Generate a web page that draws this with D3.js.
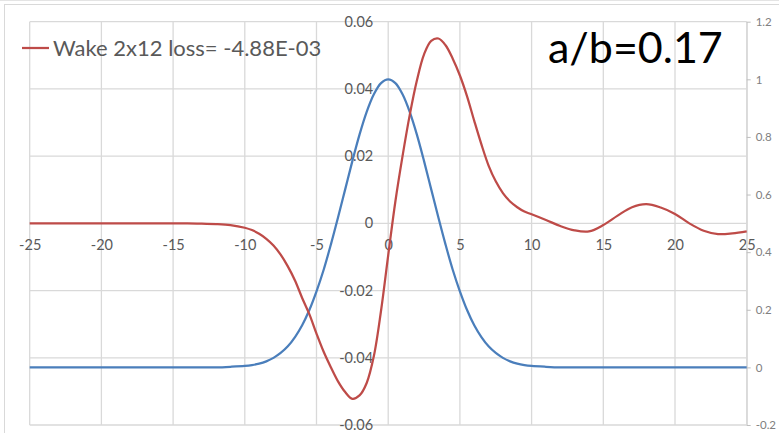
<!DOCTYPE html>
<html>
<head>
<meta charset="utf-8">
<script src="https://cdn.jsdelivr.net/npm/d3@7"></script>
<style>
  html, body { margin: 0; padding: 0; background: #fff; }
  svg { display: block; font-family: Lato, "Open Sans", sans-serif; }
</style>
</head>
<body>
<svg id="chart" width="779" height="433"></svg>
<script>
// Sample positions along the horizontal axis (denser through the central pulse)
const xs = [
  -25, -24, -23, -22, -21, -20, -19, -18, -17, -16, -15, -14, -13, -12, -11,
  -10, -9.5, -9, -8.5, -8, -7.5, -7, -6.5, -6, -5.5, -5, -4.5, -4, -3.5, -3, -2.5, -2, -1.5, -1, -0.5,
  0, 0.5, 1, 1.5, 2, 2.5, 3, 3.5, 4, 4.5, 5, 5.5, 6, 6.5, 7, 7.5, 8, 8.5, 9, 9.5, 10,
  11, 12, 13, 14, 15, 16, 17, 18, 19, 20, 21, 22, 23, 24, 25
];

// Wake potential (left axis)
const wake = [
  0, 0, 0, 0, 0, 0, 0, 0, 0, 0, 0, 0, -0.0001, -0.0002, -0.0005,
  -0.0013, -0.0020, -0.0031, -0.0046, -0.0066, -0.0093, -0.0128, -0.0170, -0.0222, -0.0270, -0.0328, -0.0382, -0.0428, -0.0470, -0.0502, -0.0522, -0.0512, -0.0475, -0.0395, -0.0260,
  -0.0095, 0.0065, 0.0200, 0.0322, 0.0425, 0.0503, 0.0543, 0.0550, 0.0530, 0.0490, 0.0440, 0.0378, 0.0305, 0.0235, 0.0172, 0.0125, 0.0090, 0.0065, 0.0048, 0.0035, 0.0027,
  0.0010, -0.0008, -0.0021, -0.0024, -0.0005, 0.0023, 0.0048, 0.0057, 0.0047, 0.0028, 0.0000, -0.0022, -0.0032, -0.0030, -0.0024
];

// Bunch profile (right axis)
const bunch = [
  0, 0, 0, 0, 0, 0, 0, 0, 0, 0, 0, 0, 0, 0, 0.002,
  0.005, 0.008, 0.013, 0.021, 0.033, 0.050, 0.073, 0.105, 0.146, 0.199, 0.264, 0.339, 0.426, 0.520, 0.618, 0.716, 0.808, 0.887, 0.948, 0.987,
  1.0, 0.987, 0.948, 0.887, 0.808, 0.716, 0.618, 0.520, 0.426, 0.339, 0.264, 0.199, 0.146, 0.105, 0.073, 0.050, 0.033, 0.021, 0.013, 0.008, 0.005,
  0.002, 0, 0, 0, 0, 0, 0, 0, 0, 0, 0, 0, 0, 0, 0
];

// Tick values for the three axes
const xTicks = [-25, -20, -15, -10, -5, 0, 5, 10, 15, 20, 25];
const leftTicks = [-0.06, -0.04, -0.02, 0, 0.02, 0.04, 0.06];
const rightTicks = [-0.2, 0, 0.2, 0.4, 0.6, 0.8, 1.0, 1.2];

const legendLabel = "Wake 2x12 loss= -4.88E-03";
const titleText = "a/b=0.17";

const colors = { wake: "#BE4B48", bunch: "#4A7EBB", grid: "#D9D9D9", text: "#595959", rightText: "#808080" };

// Plot box
const box = { left: 29.7, right: 746.7, top: 21.7, bottom: 425 };

const svg = d3.select("#chart");

const x = d3.scaleLinear().domain([-25, 25]).range([box.left, box.right]);
const yL = d3.scaleLinear().domain([-0.06, 0.06]).range([box.bottom, box.top]);
const yR = d3.scaleLinear().domain([-0.2, 1.2]).range([box.bottom, box.top]);

// Outer chart frame
svg.append("line").attr("x1", 0).attr("x2", 779).attr("y1", 0.5).attr("y2", 0.5)
  .attr("stroke", "#E4E4E4").attr("stroke-width", 1);
svg.append("rect").attr("x", 4.5).attr("y", 4.5).attr("width", 800).attr("height", 450)
  .attr("fill", "none").attr("stroke", colors.grid).attr("stroke-width", 1);

// Gridlines
const grid = svg.append("g").attr("class", "grid");
grid.selectAll("line.v").data(xTicks).join("line").attr("class", "v")
  .attr("x1", d => x(d)).attr("x2", d => x(d))
  .attr("y1", box.top).attr("y2", box.bottom)
  .attr("stroke", colors.grid).attr("stroke-width", 1.3);
grid.selectAll("line.h").data(leftTicks).join("line").attr("class", "h")
  .attr("x1", box.left).attr("x2", box.right)
  .attr("y1", d => yL(d)).attr("y2", d => yL(d))
  .attr("stroke", colors.grid).attr("stroke-width", 1.3);

const fmtL = v => String(+v.toFixed(2));
const fmtR = v => String(+v.toFixed(1));

// Left axis, sitting on x = 0
const axL = svg.append("g").attr("transform", `translate(${x(0)},0)`)
  .call(d3.axisLeft(yL).tickValues(leftTicks).tickFormat(fmtL).tickSize(0).tickPadding(15));
axL.select(".domain").remove();
axL.selectAll("text").attr("fill", colors.text).style("font-size", "14.5px").style("font-family", "Lato, sans-serif");

// Horizontal axis labels, hanging below y = 0
const axX = svg.append("g").attr("transform", `translate(0,${yL(0)})`)
  .call(d3.axisBottom(x).tickValues(xTicks).tickFormat(d => String(d)).tickSize(0).tickPadding(16));
axX.select(".domain").remove();
axX.selectAll("text").attr("fill", colors.text).style("font-size", "14.5px").style("font-family", "Lato, sans-serif");

// Right axis
const axR = svg.append("g").attr("transform", `translate(${box.right},0)`)
  .call(d3.axisRight(yR).tickValues(rightTicks).tickFormat(fmtR).tickSizeInner(4).tickSizeOuter(0).tickPadding(5));
axR.select(".domain").attr("stroke", colors.grid).attr("stroke-width", 1.3);
axR.selectAll(".tick line").attr("stroke", "#BFBFBF");
axR.selectAll("text").attr("fill", colors.rightText).style("font-size", "11.5px").style("font-family", "Lato, sans-serif");

// Curves
const pts = (ys, yScale) => xs.map((d, i) => [x(d), yScale(ys[i])]);
const line = d3.line().curve(d3.curveCatmullRom.alpha(0.5));

svg.append("path").attr("d", line(pts(bunch, yR)))
  .attr("fill", "none").attr("stroke", colors.bunch).attr("stroke-width", 2.25);
svg.append("path").attr("d", line(pts(wake, yL)))
  .attr("fill", "none").attr("stroke", colors.wake).attr("stroke-width", 2.25);

// Legend
const lg = svg.append("g").attr("transform", "translate(22,48)");
lg.append("line").attr("x1", 0).attr("x2", 27).attr("y1", 0).attr("y2", 0)
  .attr("stroke", colors.wake).attr("stroke-width", 2.25);
lg.append("text").attr("x", 31).attr("y", 0).attr("dy", "0.36em")
  .attr("fill", colors.text).style("font-size", "22px").text(legendLabel);

// Annotation
svg.append("text").attr("x", 548).attr("y", 63)
  .attr("fill", "#000").style("font-size", "43px").text(titleText);
</script>
</body>
</html>
